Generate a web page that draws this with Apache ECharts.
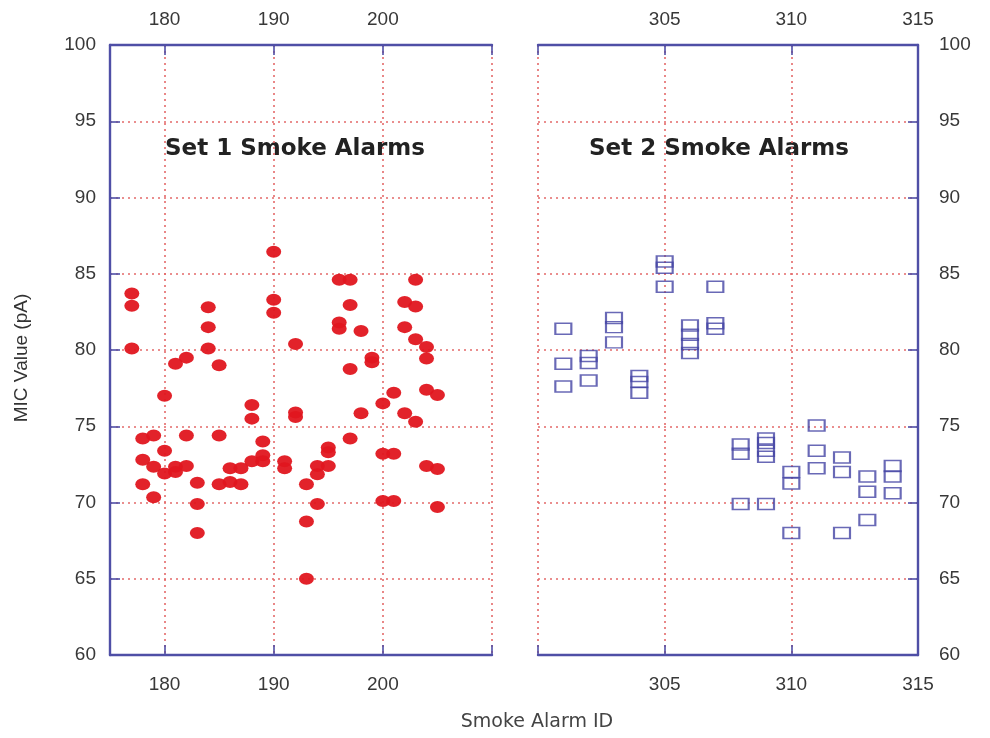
<!DOCTYPE html>
<html>
<head>
<meta charset="utf-8">
<script src="https://cdn.jsdelivr.net/npm/echarts@6/dist/echarts.min.js"></script>
<style>
  html, body { margin: 0; padding: 0; background: #fff; }
  #chart { width: 990px; height: 738px; }
</style>
</head>
<body>
<div id="chart"></div>
<script>
// Set 1 alarms (ids 177-205) and their MIC readings in pA
var set1Ids = [177, 178, 179, 180, 181, 182, 183, 184, 185, 186, 187, 188, 189, 190, 191,
  192, 193, 194, 195, 196, 197, 198, 199, 200, 201, 202, 203, 204, 205];
var set1Mic = [
  [83.7, 82.9, 80.1], [74.2, 72.8, 71.2], [74.4, 72.35, 70.35], [77.0, 73.4, 71.9],
  [79.1, 72.35, 72.0], [79.5, 74.4, 72.4], [71.3, 69.9, 68.0], [82.8, 81.5, 80.1],
  [79.0, 74.4, 71.2], [72.25, 71.35], [72.25, 71.2], [76.4, 75.5, 72.7],
  [74.0, 73.1, 72.7], [86.45, 83.3, 82.45], [72.7, 72.25], [80.4, 75.9, 75.6],
  [71.2, 68.75, 65.0], [72.4, 71.85, 69.9], [73.6, 73.3, 72.4], [84.6, 81.8, 81.4],
  [84.6, 82.95, 78.75, 74.2], [81.25, 75.85], [79.5, 79.2], [76.5, 73.2, 70.1],
  [77.2, 73.2, 70.1], [83.15, 81.5, 75.85], [84.6, 82.85, 80.7, 75.3],
  [80.2, 79.45, 77.4, 72.4], [77.05, 72.2, 69.7]
];

// Set 2 alarms (ids 301-314)
var set2Ids = [301, 302, 303, 304, 305, 306, 307, 308, 309, 310, 311, 312, 313, 314];
var set2Mic = [
  [81.4, 79.1, 77.6], [79.6, 79.15, 78.0], [82.1, 81.5, 80.5], [78.3, 77.9, 77.2],
  [85.8, 85.4, 84.15], [81.6, 81.0, 80.4, 79.8], [84.15, 81.75, 81.4],
  [73.8, 73.2, 69.9], [74.2, 73.9, 73.4, 73.0, 69.9], [72.0, 71.25, 68.0],
  [75.05, 73.4, 72.25], [72.95, 72.0, 68.0], [71.7, 70.7, 68.85], [72.4, 71.7, 70.6]
];

var set1TickValues = [180, 190, 200, 210];
var set1LabelValues = [180, 190, 200];
var set2LabelValues = [305, 310, 315];

var axisBlue = '#4f4fa6';
var gridRed = '#e46a6a';
var labelGrey = '#383838';
var tickFont = 'Liberation Sans, Arial, sans-serif';

function toPoints(ids, mic) {
  var pts = [];
  ids.forEach(function (id, i) {
    mic[i].forEach(function (v) { pts.push([id, v]); });
  });
  return pts;
}

var dotted = { show: true, lineStyle: { color: gridRed, width: 1.6, type: [2, 4] } };
var blueLine = { show: true, onZero: false, lineStyle: { color: axisBlue, width: 2.4 } };
var blueTick = { show: true, inside: true, length: 10, lineStyle: { color: axisBlue, width: 1.6 } };

function xAxisSet1(pos) {
  return {
    type: 'value', gridIndex: 0, position: pos, min: 175, max: 210,
    axisLine: blueLine,
    axisTick: Object.assign({ customValues: set1TickValues }, blueTick),
    axisLabel: { customValues: set1LabelValues, color: labelGrey, fontSize: 19, fontFamily: tickFont,
      margin: pos === 'top' ? 16 : 20 },
    splitLine: pos === 'bottom' ? dotted : { show: false }
  };
}

function xAxisSet2(pos) {
  return {
    type: 'value', gridIndex: 1, position: pos, min: 300, max: 315, interval: 5,
    axisLine: blueLine,
    axisTick: blueTick,
    axisLabel: { customValues: set2LabelValues, color: labelGrey, fontSize: 19, fontFamily: tickFont,
      margin: pos === 'top' ? 16 : 20 },
    splitLine: pos === 'bottom' ? dotted : { show: false }
  };
}

function yAxisFor(grid, pos) {
  return {
    type: 'value', gridIndex: grid, position: pos, min: 60, max: 100, interval: 5,
    axisLine: blueLine,
    axisTick: blueTick,
    axisLabel: { color: labelGrey, fontSize: 19, fontFamily: tickFont, margin: pos === 'left' ? 14 : 21 },
    splitLine: dotted
  };
}

var chart = echarts.init(document.getElementById('chart'), null, { renderer: 'canvas' });

chart.setOption({
  animation: false,
  backgroundColor: '#ffffff',
  grid: [
    { left: 110, right: 498, top: 45, bottom: 83 },
    { left: 538, right: 72, top: 45, bottom: 83 }
  ],
  xAxis: [xAxisSet1('bottom'), xAxisSet1('top'), xAxisSet2('bottom'), xAxisSet2('top')],
  yAxis: [yAxisFor(0, 'left'), yAxisFor(1, 'right')],
  series: [
    {
      type: 'scatter', xAxisIndex: 0, yAxisIndex: 0,
      symbol: 'circle', symbolSize: [15, 12],
      itemStyle: { color: '#e0161f', opacity: 0.95 },
      data: toPoints(set1Ids, set1Mic)
    },
    {
      type: 'scatter', xAxisIndex: 2, yAxisIndex: 1,
      symbol: 'rect', symbolSize: [16, 11],
      itemStyle: { color: 'rgba(255,255,255,0)', borderColor: '#4444a4', borderWidth: 1.8 },
      data: toPoints(set2Ids, set2Mic)
    }
  ],
  graphic: [
    { type: 'text', x: 295, y: 149,
      style: { text: 'Set 1 Smoke Alarms', fill: '#222', font: 'bold 23px "DejaVu Sans", sans-serif',
        textAlign: 'center', textVerticalAlign: 'middle' } },
    { type: 'text', x: 719, y: 149,
      style: { text: 'Set 2 Smoke Alarms', fill: '#222', font: 'bold 23px "DejaVu Sans", sans-serif',
        textAlign: 'center', textVerticalAlign: 'middle' } },
    { type: 'text', x: 537, y: 722,
      style: { text: 'Smoke Alarm ID', fill: '#444', font: '19px "DejaVu Sans", sans-serif',
        textAlign: 'center', textVerticalAlign: 'middle' } },
    { type: 'text', x: 22, y: 358, rotation: Math.PI / 2,
      style: { text: 'MIC Value (pA)', fill: '#333', font: '19px "Liberation Sans", Arial, sans-serif',
        textAlign: 'center', textVerticalAlign: 'middle' } }
  ]
});
</script>
</body>
</html>
